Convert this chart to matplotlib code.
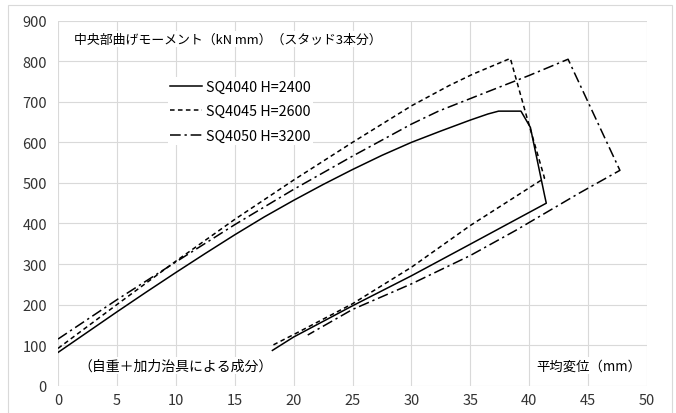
import matplotlib
matplotlib.use('Agg')
import matplotlib.pyplot as plt
from matplotlib.patches import Rectangle

plt.rcParams['font.family'] = ['Noto Sans CJK JP', 'DejaVu Sans']

# SQ4040 H=2400 (solid)
x1 = [0, 2.5, 5, 7.5, 10, 12.5, 15, 17.5, 20, 22.5, 25, 27.5, 30, 32.5, 35, 36.5, 37.4,
      39.3, 40.1, 41.3, 41.45, 35, 30, 25, 20, 18.2]
y1 = [82, 132, 182, 231, 279, 326, 372, 416, 457, 496, 533, 568, 600, 628, 655, 670, 677,
      677, 637, 470, 450, 349, 271, 197, 120, 87]

# SQ4045 H=2600 (dashed)
x2 = [0, 5, 10, 15, 20, 25, 30, 33.2, 35.2, 38.4, 39.8, 41.3, 35, 30, 25, 20, 18.1]
y2 = [92, 200, 307, 410, 507, 600, 690, 740, 768, 807, 662, 512, 395, 292, 202, 126, 98]

# SQ4050 H=3200 (dash-dot)
x3 = [0, 5, 10, 15, 20, 25, 30, 32.3, 35.7, 40, 43.3, 47.7, 44.2, 38.8, 35, 30, 25, 21.2]
y3 = [115, 212, 305, 397, 484, 566, 645, 677, 716, 765, 805, 531, 474, 382, 321, 251, 188, 125]

labels = ['SQ4040 H=2400', 'SQ4045 H=2600', 'SQ4050 H=3200']

fig = plt.figure(figsize=(6.76, 4.14), dpi=100)
fig.patches.append(Rectangle((8/676, -0.1), 664/676, 1.1 - 6/414, transform=fig.transFigure,
                             fill=False, edgecolor='#d9d9d9', linewidth=0.8))
ax = fig.add_axes([58/676, 27.3/414, 589/676, 365/414])

ax.plot(x1, y1, color='black', linewidth=1.1, label=labels[0])
ax.plot(x2, y2, color='black', linewidth=1.1, linestyle=(0, (3, 2.2)), label=labels[1])
ax.plot(x3, y3, color='black', linewidth=1.1, linestyle=(0, (7, 2.5, 1.5, 2.5)), label=labels[2])

ax.set_xlim(0, 50)
ax.set_ylim(0, 900)
ax.set_xticks(range(0, 51, 5))
ax.set_yticks(range(0, 901, 100))
ax.grid(color='#d9d9d9', linewidth=0.8)
ax.set_axisbelow(True)
for s in ax.spines.values():
    s.set_visible(False)
ax.tick_params(length=0, labelsize=10.5, colors='#333333')
ax.tick_params(axis='y', pad=8)
ax.tick_params(axis='x', pad=5)

bg = dict(facecolor='white', edgecolor='none', pad=1)
ax.text(0.028, 0.95, '中央部曲げモーメント（kN mm）（スタッド3本分）', transform=ax.transAxes,
        fontsize=9.3, va='center', ha='left', bbox=bg)
ax.text(0.035, 0.056, '（自重＋加力治具による成分）', transform=ax.transAxes,
        fontsize=10, va='center', ha='left', bbox=bg)
ax.text(0.99, 0.056, '平均変位（mm）', transform=ax.transAxes,
        fontsize=9.6, va='center', ha='right', bbox=bg)

leg = ax.legend(loc='upper left', bbox_to_anchor=(0.174, 0.865), frameon=True, fancybox=False,
                edgecolor='none', facecolor='white', framealpha=1, fontsize=10.3,
                handlelength=2.2, handletextpad=0.25, labelspacing=0.72, borderpad=0.2)

fig.savefig('out.png', dpi=100)
